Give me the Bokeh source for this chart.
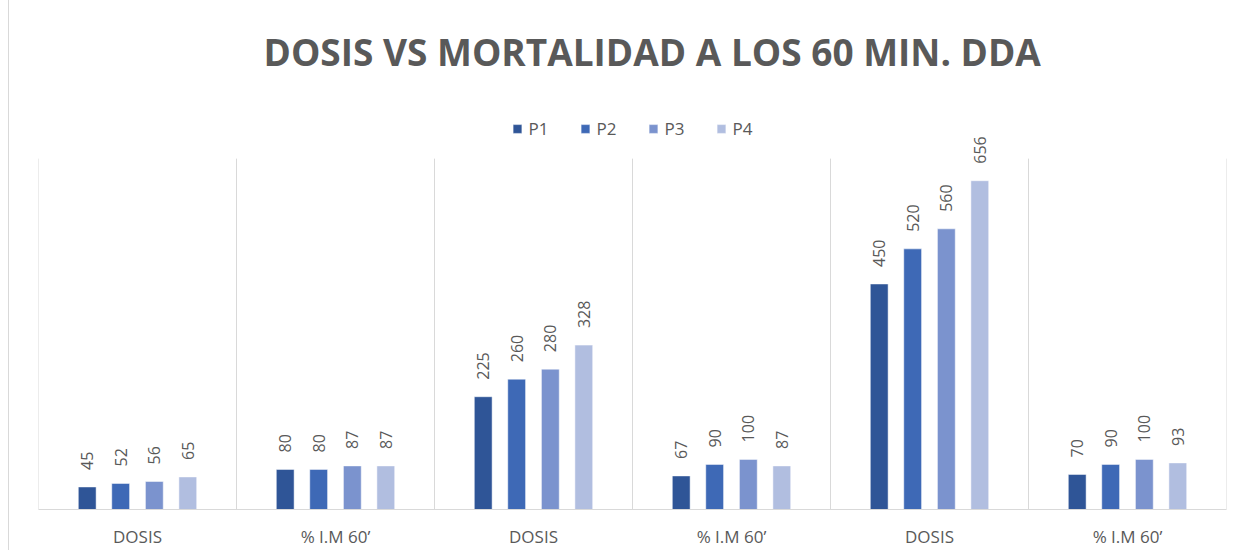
from bokeh.plotting import figure
from bokeh.models import ColumnDataSource, Range1d, FixedTicker, Legend, LegendItem, Title
from bokeh.transform import dodge
from bokeh.core.properties import value
from bokeh.embed import file_html
from bokeh.resources import INLINE

categories = ["DOSIS", "% I.M 60’", "DOSIS", "% I.M 60’", "DOSIS", "% I.M 60’"]
series_names = ["P1", "P2", "P3", "P4"]
p1 = [45, 80, 225, 67, 450, 70]
p2 = [52, 80, 260, 90, 520, 90]
p3 = [56, 87, 280, 100, 560, 100]
p4 = [65, 87, 328, 87, 656, 93]
colors = ["#2F5597", "#3E69B6", "#7B93CE", "#B1BEE0"]

xs = list(range(len(categories)))
src = ColumnDataSource(dict(x=xs, P1=p1, P2=p2, P3=p3, P4=p4,
                            L1=[str(v) for v in p1], L2=[str(v) for v in p2],
                            L3=[str(v) for v in p3], L4=[str(v) for v in p4]))

AXIS_MAX = 700      # value-axis maximum (separators reach up to it)
FRAME_TOP = 826     # extra room above the axis maximum for legend and labels

p = figure(width=1231, height=550, output_backend="svg", toolbar_location=None,
           x_range=Range1d(-0.5, len(categories) - 0.5), y_range=Range1d(0, FRAME_TOP),
           y_axis_location=None, min_border_left=29, min_border_right=14,
           min_border_bottom=38, min_border_top=95, background_fill_color="white",
           border_fill_color="white", outline_line_color=None)

# category separators
bounds = [i - 0.5 for i in range(len(categories) + 1)]
p.segment(x0=bounds, y0=[0] * len(bounds), x1=bounds, y1=[AXIS_MAX] * len(bounds),
          line_color="#D9D9D9", line_width=1)

offsets = [-0.254, -0.085, 0.085, 0.254]
items = []
for i, name in enumerate(series_names):
    r = p.vbar(x=dodge("x", offsets[i]), top=name, width=0.09, source=src,
               fill_color=colors[i], line_color="white", line_width=0.5)
    items.append(LegendItem(label=name, renderers=[r]))
    p.text(x=dodge("x", offsets[i]), y=name, text="L%d" % (i + 1), source=src,
           angle=1.5708, text_align="left", text_baseline="middle",
           y_offset=-17, text_color="#595959", text_font_size="16px",
           text_font=value("Open Sans"))

p.xgrid.visible = False
p.ygrid.visible = False

ax = p.xaxis[0]
ax.ticker = FixedTicker(ticks=xs)
ax.major_label_overrides = {i: c for i, c in enumerate(categories)}
ax.major_tick_line_color = None
ax.minor_tick_line_color = None
ax.major_tick_out = 0
ax.major_tick_in = 0
ax.minor_tick_out = 0
ax.axis_line_color = "#D9D9D9"
ax.axis_line_width = 1
ax.major_label_text_color = "#595959"
ax.major_label_text_font = "Open Sans"
ax.major_label_text_font_size = "17px"
ax.major_label_standoff = 15

legend = Legend(items=items, orientation="horizontal", location="top_center",
                border_line_color=None, background_fill_alpha=0,
                label_text_color="#595959", label_text_font="Open Sans",
                label_text_font_size="17px", glyph_width=11, glyph_height=11,
                label_standoff=6, spacing=31, margin=22, padding=0)
p.add_layout(legend)

p.title = Title(text="DOSIS VS MORTALIDAD A LOS 60 MIN. DDA", align="left",
                text_font="Open Sans", text_font_size="37px", offset=225,
                text_font_style="bold", text_color="#595959", standoff=38)

p.styles = {"border-left": "1px solid #D9D9D9", "margin-left": "8px"}

open("out.html", "w").write(file_html(p, INLINE))
